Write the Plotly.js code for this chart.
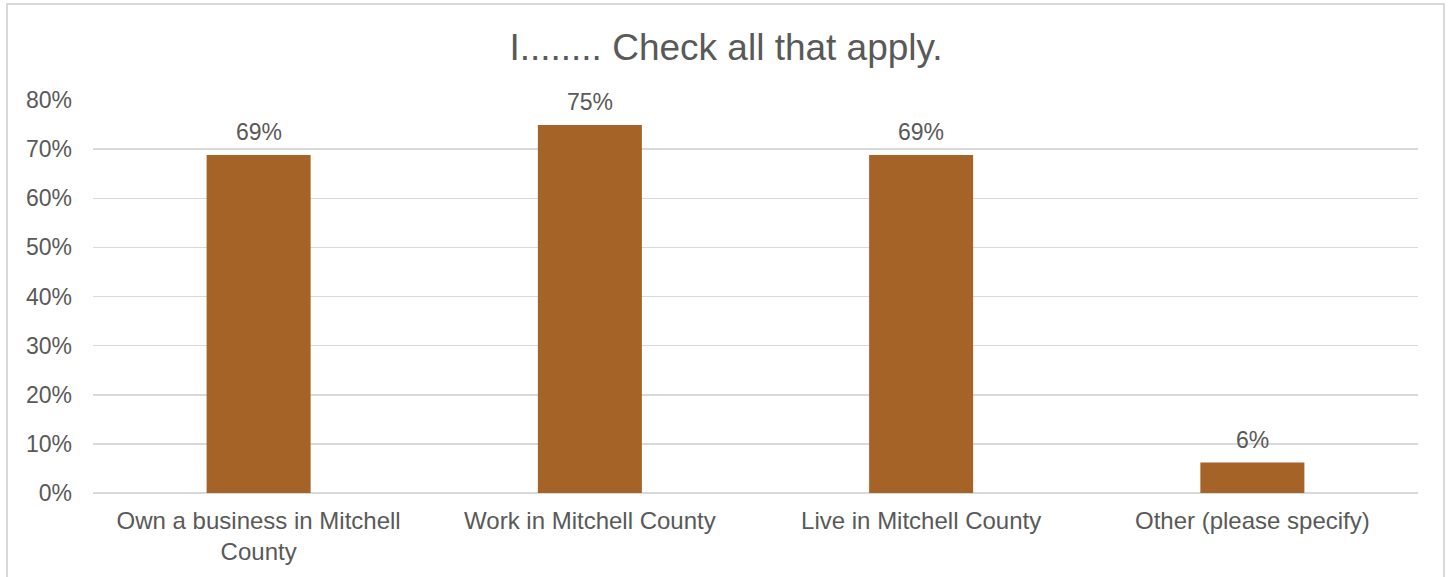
<!DOCTYPE html>
<html>
<head>
<meta charset="utf-8">
<script src="https://cdn.plot.ly/plotly-3.0.1.min.js"></script>
<style>
  html, body { margin: 0; padding: 0; background: #fff; }
  #wrap { position: relative; width: 1452px; height: 577px; }
  #chart { width: 1452px; height: 577px; }
  #frame { position: absolute; left: 6px; top: 3px; width: 1439px; height: 590px; border: 2px solid #d9d9d9; pointer-events: none; box-sizing: border-box; }
</style>
</head>
<body>
<div id="wrap">
  <div id="chart"></div>
  <div id="frame"></div>
</div>
<script>
const categories = ["Own a business in Mitchell<br>County", "Work in Mitchell County", "Live in Mitchell County", "Other (please specify)"];
const values = [0.688, 0.749, 0.688, 0.062];
const valueLabels = ["69%", "75%", "69%", "6%"];
const yTicks = [0, 0.1, 0.2, 0.3, 0.4, 0.5, 0.6, 0.7, 0.8];
const yTickLabels = ["0%", "10%", "20%", "30%", "40%", "50%", "60%", "70%", "80%"];

const font = "Liberation Sans, Arial, sans-serif";
const grey = "#595959";

const annotations = categories.map((c, i) => ({
  x: c, y: values[i], xref: "x", yref: "y",
  text: valueLabels[i], showarrow: false,
  yanchor: "bottom", yshift: 8,
  font: { family: font, size: 23, color: grey }
}));

Plotly.newPlot("chart", [{
  type: "bar",
  x: categories,
  y: values,
  marker: { color: "#A66328" },
  hoverinfo: "none"
}], {
  width: 1452,
  height: 577,
  margin: { l: 93, r: 34, t: 100, b: 84 },
  paper_bgcolor: "#ffffff",
  plot_bgcolor: "#ffffff",
  bargap: 0.686,
  annotations: annotations,
  title: { text: "I........ Check all that apply.", font: { family: font, size: 37, color: grey }, x: 0.5, xanchor: "center", y: 0.918, yanchor: "middle" },
  xaxis: {
    type: "category",
    tickfont: { family: font, size: 24, color: grey },
    showgrid: false,
    showline: false,
    ticks: "",
    zeroline: false,
    ticklabelstandoff: 11
  },
  yaxis: {
    range: [0, 0.8],
    tickvals: yTicks,
    ticktext: yTickLabels,
    tickfont: { family: font, size: 23, color: grey },
    showgrid: true,
    gridcolor: "#d9d9d9",
    gridwidth: 1.5,
    zeroline: true,
    zerolinecolor: "#d9d9d9",
    zerolinewidth: 1.5,
    showline: false,
    ticks: "",
    ticklen: 0,
    ticklabelstandoff: 20,
    automargin: false
  },
  showlegend: false
}, { staticPlot: true });
</script>
</body>
</html>
